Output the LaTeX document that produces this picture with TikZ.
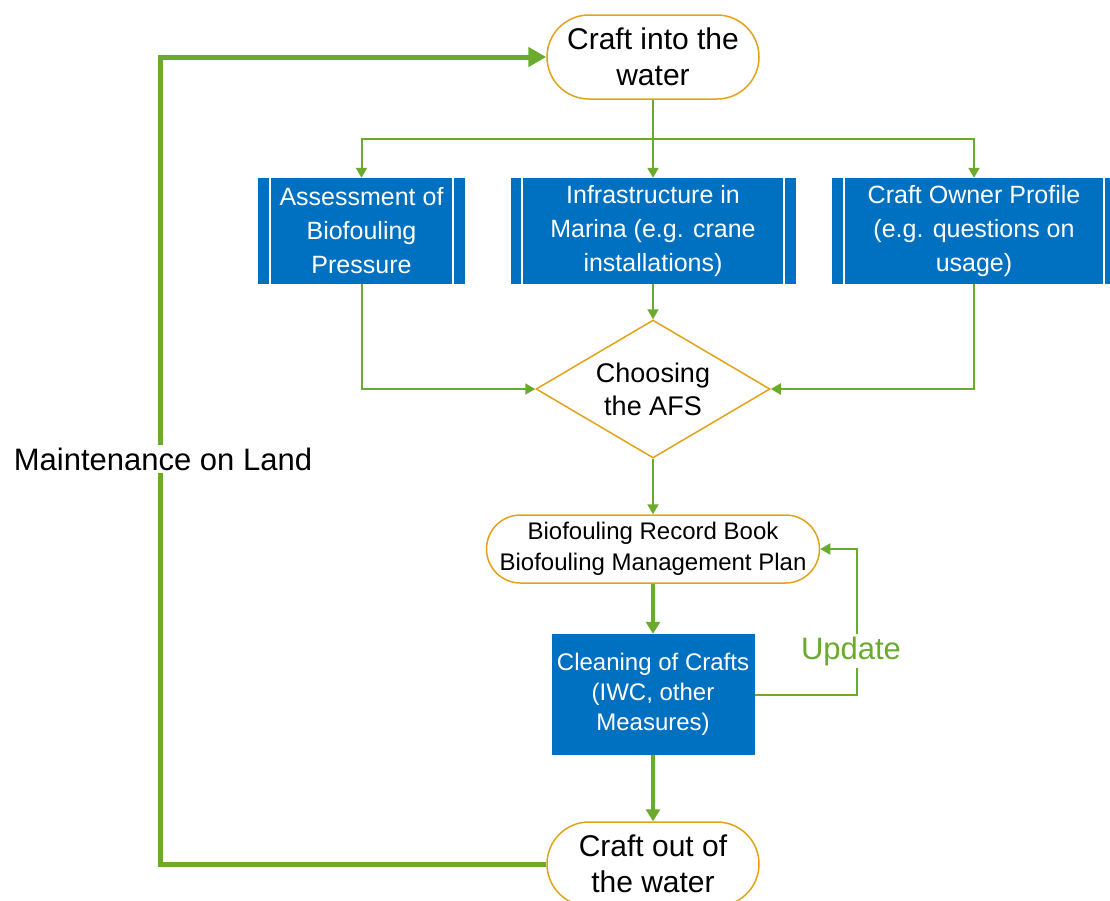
\documentclass[tikz,border=0pt]{standalone}
\usepackage{fontspec}
\setmainfont{Liberation Sans}
\usepackage{xcolor}
\usepackage{tikz}
\usetikzlibrary{arrows.meta,positioning,calc,shapes.geometric,shapes.misc}
\definecolor{boxblue}{HTML}{0070C0}
\definecolor{termorange}{HTML}{E3A21A}
\definecolor{flowgreen}{HTML}{6AAB2E}

\begin{document}
\begin{tikzpicture}[
    x=1pt, y=-1pt,
    terminal/.style={rounded rectangle, draw=termorange, line width=1.5pt, fill=white,
      align=center, inner sep=0pt, minimum width=212pt, minimum height=84pt,
      font=\fontsize{30}{36}\selectfont},
    predef/.style={rectangle, fill=boxblue, text=white, align=center, inner sep=0pt,
      minimum height=106pt, font=\fontsize{25}{34}\selectfont},
    process/.style={rectangle, fill=boxblue, text=white, align=center, inner sep=0pt},
    choice/.style={diamond, draw=termorange, line width=1.5pt, fill=white,
      inner sep=0pt, minimum width=234pt, minimum height=138pt},
    line/.style={draw=flowgreen, line width=2pt},
    arrow/.style={line, -{Triangle[length=10pt, width=11pt]}},
    bigarrow/.style={draw=flowgreen, line width=3.5pt, -{Triangle[length=12pt, width=14pt]}},
    loop/.style={draw=flowgreen, line width=5pt, -{Triangle[length=18pt, width=19pt]}},
    lbl/.style={fill=white, inner sep=3pt, font=\fontsize{31}{36}\selectfont}
  ]
    \useasboundingbox (0,0) rectangle (1110,900);

    % terminals
    \node[terminal] (into) at (653,57) {Craft into the\\water};
    \node[terminal] (out) at (653,864) {Craft out of\\the water};

    % predefined processes
    \node[predef, minimum width=207pt] (pressure) at (361.5,231) {Assessment of\\Biofouling\\Pressure};
    \node[predef, minimum width=285pt] (marina) at (653,231) {Infrastructure in\\Marina (e.g. crane\\installations)};
    \node[predef, minimum width=284pt] (owner) at (974,231) {Craft Owner Profile\\(e.g. questions on\\usage)};
    \foreach \b in {pressure,marina,owner} {
      \draw[white, line width=2pt] ([xshift=12pt]\b.north west) -- ([xshift=12pt]\b.south west);
      \draw[white, line width=2pt] ([xshift=-12pt]\b.north east) -- ([xshift=-12pt]\b.south east);
    }

    % decision
    \node[choice] (afs) at (653,389) {};
    \node[align=center, font=\fontsize{27}{33}\selectfont] (afstext) at (afs) {Choosing\\the AFS};

    \node[terminal, minimum width=323pt, minimum height=68pt, inner xsep=-5pt,
      font=\fontsize{24}{31}\selectfont] (record) at (653,549)
      {Biofouling Record Book\\Biofouling Management Plan};
    \node[process, minimum width=203pt, minimum height=121pt,
      font=\fontsize{24}{30}\selectfont] (clean) at (653,694.5)
      {Cleaning of Crafts\\(IWC, other\\Measures)};

    % connectors
    \coordinate (split) at ($(into.south)+(0,39)$);
    \draw[line] (into.south) -- (split);
    \draw[arrow] (split) -| (pressure.north);
    \draw[arrow] (split) -| (owner.north);
    \draw[arrow] (split) -- (marina.north);
    \draw[arrow] (marina.south) -- (afs.north);
    \draw[arrow] (pressure.south) |- (afs.west);
    \draw[arrow] (owner.south) |- (afs.east);
    \draw[arrow] (afs.south) -- (record.north);
    \draw[bigarrow] (record.south) -- (clean.north);
    \draw[bigarrow] (clean.south) -- (out.north);
    \draw[arrow] (clean.east) -| ($(record.east)+(37,0)$) -- (record.east);
    \draw[loop] (out.west) -| ($(into.west)+(-386,0)$) -- (into.west);

    % labels
    \node[lbl, text=flowgreen] (update) at (851,651) {Update};
    \node[lbl] (land) at (163,459) {Maintenance on Land};
  \end{tikzpicture}
\end{document}
